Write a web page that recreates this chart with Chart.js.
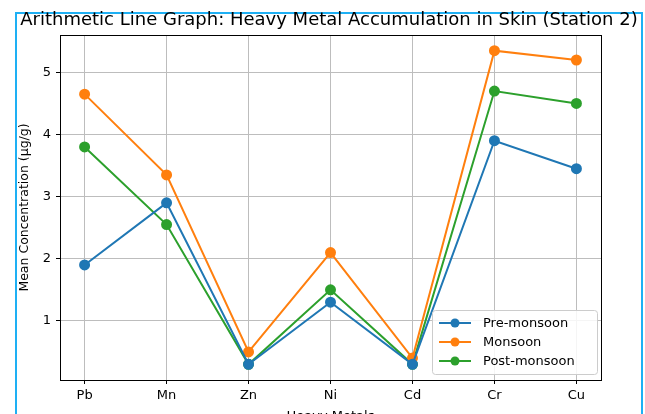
<!DOCTYPE html>
<html>
<head>
<meta charset="utf-8">
<script src="https://cdn.jsdelivr.net/npm/chart.js@4.4.1/dist/chart.umd.min.js"></script>
<style>
  html, body { margin: 0; padding: 0; background: #fff; overflow: hidden; }
  #wrap { position: relative; width: 645px; height: 414px; overflow: hidden; }
  #frame {
    position: absolute; left: 15px; top: 12px; width: 624px; height: 420px;
    border: 2px solid #1eb0f4; border-bottom: none;
  }
  #title {
    position: absolute; left: 0; top: 8px; width: 658px; text-align: center;
    font-family: "DejaVu Sans", sans-serif; font-size: 18px; color: #000;
    white-space: nowrap;
  }
  canvas { position: absolute; left: 0; top: 0; }
</style>
</head>
<body>
<div id="wrap">
  <div id="frame"></div>
  <canvas id="lineChart" width="645" height="430"></canvas>
  <div id="title">Arithmetic Line Graph: Heavy Metal Accumulation in Skin (Station 2)</div>
</div>
<script>
// Dữ liệu
const metals = ["Pb", "Mn", "Zn", "Ni", "Cd", "Cr", "Cu"];
const preMonsoon = [1.9, 2.9, 0.3, 1.3, 0.3, 3.9, 3.45];
const monsoon = [4.65, 3.35, 0.5, 2.1, 0.4, 5.35, 5.2];
const postMonsoon = [3.8, 2.55, 0.3, 1.5, 0.3, 4.7, 4.5];
const yTicks = [1, 2, 3, 4, 5];

const seriesNames = ["Pre-monsoon", "Monsoon", "Post-monsoon"];
const seriesColors = ["#1f77b4", "#ff7f0e", "#2ca02c"];
const seriesValues = [preMonsoon, monsoon, postMonsoon];

const FONT = "'DejaVu Sans', sans-serif";

// khung viền trên + phải của vùng vẽ
const boxPlugin = {
  id: "box",
  afterDraw(chart) {
    const { ctx, chartArea: a } = chart;
    ctx.save();
    ctx.strokeStyle = "#000";
    ctx.lineWidth = 1;
    ctx.strokeRect(a.left + 0.5, a.top + 0.5, a.right - a.left, a.bottom - a.top);
    ctx.restore();
  },
};

// chú thích kiểu matplotlib
const legendPlugin = {
  id: "mplLegend",
  afterDraw(chart) {
    const { ctx } = chart;
    const x = 432, y = 310, w = 165, h = 64;
    ctx.save();
    ctx.fillStyle = "rgba(255,255,255,0.85)";
    ctx.strokeStyle = "#cccccc";
    ctx.lineWidth = 1;
    ctx.beginPath();
    ctx.roundRect(x + 0.5, y + 0.5, w, h, 3);
    ctx.fill();
    ctx.stroke();
    ctx.font = "13px " + FONT;
    ctx.textBaseline = "middle";
    seriesNames.forEach((name, i) => {
      const ry = y + 13 + i * 19;
      ctx.strokeStyle = seriesColors[i];
      ctx.lineWidth = 2;
      ctx.beginPath();
      ctx.moveTo(x + 7, ry);
      ctx.lineTo(x + 39, ry);
      ctx.stroke();
      ctx.fillStyle = seriesColors[i];
      ctx.beginPath();
      ctx.arc(x + 23, ry, 4.5, 0, Math.PI * 2);
      ctx.fill();
      ctx.fillStyle = "#000";
      ctx.fillText(name, x + 51, ry + 1);
    });
    ctx.restore();
  },
};

const chart = new Chart(document.getElementById("lineChart"), {
  type: "line",
  data: {
    datasets: seriesNames.map((name, i) => ({
      label: name,
      data: seriesValues[i].map((v, j) => ({ x: j, y: v })),
      borderColor: seriesColors[i],
      backgroundColor: seriesColors[i],
      borderWidth: 2,
      pointRadius: 4.5,
      pointHoverRadius: 4.5,
      tension: 0,
      fill: false,
    })),
  },
  options: {
    responsive: false,
    animation: false,
    layout: { padding: { left: 16, right: 44, top: 35, bottom: 0 } },
    plugins: {
      legend: { display: false },
      title: { display: false },
      tooltip: { enabled: false },
    },
    scales: {
      x: {
        type: "linear",
        min: -0.3,
        max: 6.3,
        afterBuildTicks: (s) => { s.ticks = metals.map((m, i) => ({ value: i })); },
        afterFit: (s) => { s.height = 50; },
        ticks: {
          autoSkip: false,
          maxRotation: 0,
          color: "#000",
          padding: 4,
          font: { family: FONT, size: 13 },
          callback: (v) => metals[v],
        },
        grid: { color: "#bdbdbd", tickColor: "#000", tickLength: 4, lineWidth: 1 },
        border: { color: "#000", width: 1 },
        title: {
          display: true,
          text: "Heavy Metals",
          color: "#000",
          font: { family: FONT, size: 13 },
          padding: { top: 0, bottom: 6 },
        },
      },
      y: {
        min: 0.0475,
        max: 5.6025,
        afterBuildTicks: (s) => { s.ticks = yTicks.map((v) => ({ value: v })); },
        afterFit: (s) => { s.width = 44; },
        ticks: {
          color: "#000",
          padding: 5,
          font: { family: FONT, size: 13 },
        },
        grid: { color: "#bdbdbd", tickColor: "#000", tickLength: 4, lineWidth: 1 },
        border: { color: "#000", width: 1 },
        title: {
          display: true,
          text: "Mean Concentration (µg/g)",
          color: "#000",
          font: { family: FONT, size: 12.5 },
          padding: { top: 1, bottom: 2 },
        },
      },
    },
  },
  plugins: [boxPlugin, legendPlugin],
});
</script>
</body>
</html>
